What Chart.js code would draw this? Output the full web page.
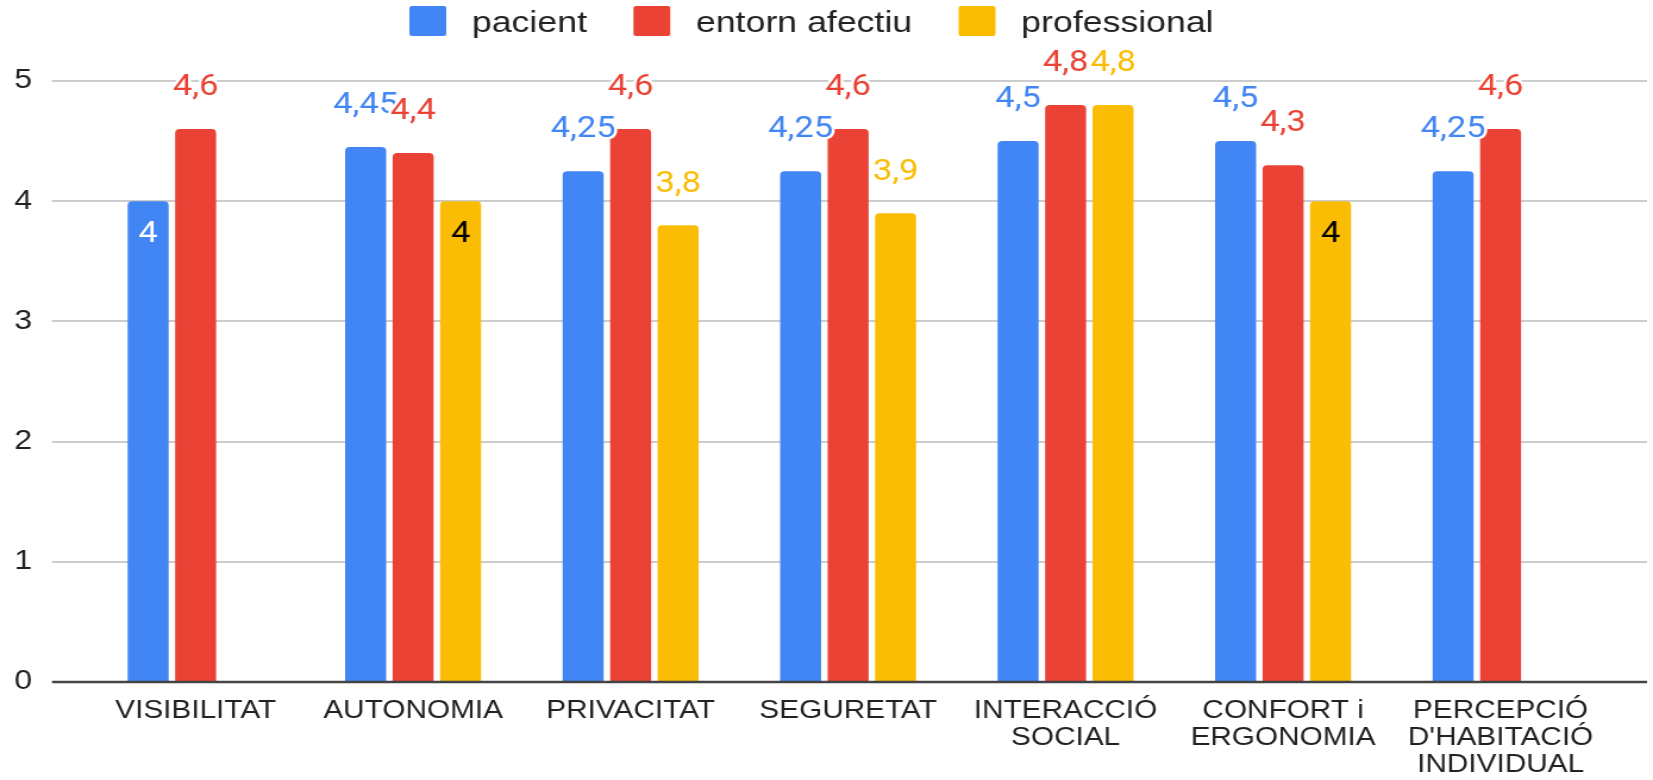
<!DOCTYPE html>
<html lang="ca">
<head>
<meta charset="utf-8">
<title>Valoració per categories</title>
<script src="https://cdn.jsdelivr.net/npm/chart.js@4.4.1/dist/chart.umd.min.js"></script>
<style>
  html, body { margin: 0; padding: 0; background: #fff; overflow: hidden; }
  /* the original picture is a chart stretched sideways, so we draw it narrower and stretch it */
  #wrap { width: 1389px; height: 780px; transform: scaleX(1.19006); transform-origin: 0 0; }
</style>
</head>
<body>
<div id="wrap"><canvas id="grafic"></canvas></div>
<script>
// ==============================================================
// 1. DADES
// ==============================================================
const categories = [
  'VISIBILITAT',
  'AUTONOMIA',
  'PRIVACITAT',
  'SEGURETAT',
  ['INTERACCIÓ', 'SOCIAL'],
  ['CONFORT i', 'ERGONOMIA'],
  ['PERCEPCIÓ', "D'HABITACIÓ", 'INDIVIDUAL']
];
const seriesNames = ['pacient', 'entorn afectiu', 'professional'];
const pacient = [4, 4.45, 4.25, 4.25, 4.5, 4.5, 4.25];
const entornAfectiu = [4.6, 4.4, 4.6, 4.6, 4.8, 4.3, 4.6];
const professional = [null, 4, 3.8, 3.9, 4.8, 4, null];
const yTicks = [0, 1, 2, 3, 4, 5];

// ==============================================================
// 2. ESTIL
// ==============================================================
const COLORS = ['#4285F4', '#EA4335', '#FBBC04'];
const INSIDE_TEXT = ['#ffffff', '#ffffff', '#000000'];
// etiquetes que Google posa dins la barra: [sèrie, categoria]
const labelsInside = [[0, 0], [2, 1], [2, 5]];

const TEXT = '#222222';
const GRID_LEFT = 43.7;
const GRID_RIGHT = 1384;

Chart.defaults.font.family = "'Liberation Sans', Arial, sans-serif";
Chart.defaults.color = TEXT;

// llegenda dibuixada a mà per poder posar-la on és a l'original
const legendPlugin = {
  id: 'llegenda',
  afterDraw(chart) {
    const ctx = chart.ctx;
    const boxW = 31, boxH = 30, gapText = 21.5, gapItem = 39;
    let x = 344;
    const top = 6;
    ctx.save();
    ctx.font = "30px 'Liberation Sans', Arial, sans-serif";
    ctx.textBaseline = 'alphabetic';
    chart.data.datasets.forEach(ds => {
      ctx.fillStyle = ds.backgroundColor;
      ctx.beginPath();
      ctx.roundRect(x, top, boxW, boxH, 2);
      ctx.fill();
      x += boxW + gapText;
      ctx.fillStyle = TEXT;
      ctx.fillText(ds.label, x, top + boxH / 2 + 10.5);
      x += ctx.measureText(ds.label).width + gapItem;
    });
    ctx.restore();
  }
};

// línies de la graella, eix i etiquetes de valor
const gridPlugin = {
  id: 'graella',
  beforeDatasetsDraw(chart) {
    const ctx = chart.ctx;
    const y = chart.scales.y;
    ctx.save();
    ctx.strokeStyle = '#cccccc';
    ctx.lineWidth = 2;
    y.ticks.forEach(t => {
      if (t.value === 0) return;
      const py = Math.round(y.getPixelForValue(t.value));
      ctx.beginPath();
      ctx.moveTo(GRID_LEFT, py);
      ctx.lineTo(GRID_RIGHT, py);
      ctx.stroke();
    });
    ctx.restore();
  },
  afterDatasetsDraw(chart) {
    const ctx = chart.ctx;
    const y = chart.scales.y;
    ctx.save();
    const py = Math.round(y.getPixelForValue(0));
    ctx.strokeStyle = '#444444';
    ctx.lineWidth = 2.5;
    ctx.beginPath();
    ctx.moveTo(GRID_LEFT, py);
    ctx.lineTo(GRID_RIGHT, py);
    ctx.stroke();

    const fs = 29;
    ctx.font = fs + 'px Roboto, sans-serif';
    ctx.textAlign = 'center';
    ctx.textBaseline = 'alphabetic';
    ctx.lineJoin = 'round';
    chart.data.datasets.forEach((ds, di) => {
      const meta = chart.getDatasetMeta(di);
      meta.data.forEach((bar, i) => {
        const v = ds.data[i];
        if (v === null || v === undefined) return;
        const txt = String(v).replace('.', ',');
        const inside = labelsInside.some(p => p[0] === di && p[1] === i);
        if (inside) {
          ctx.fillStyle = INSIDE_TEXT[di];
          ctx.fillText(txt, bar.x, bar.y + 31 + fs * 0.355);
        } else {
          const by = bar.y - 44 + fs * 0.355;
          ctx.strokeStyle = '#ffffff';
          ctx.lineWidth = 5;
          ctx.strokeText(txt, bar.x, by);
          ctx.fillStyle = COLORS[di];
          ctx.fillText(txt, bar.x, by);
        }
      });
    });
    ctx.restore();
  }
};

// ==============================================================
// 3. GRÀFIC
// ==============================================================
const allSeries = [pacient, entornAfectiu, professional];

new Chart(document.getElementById('grafic'), {
  type: 'bar',
  data: {
    labels: categories,
    datasets: allSeries.map((values, k) => ({
      label: seriesNames[k],
      data: values,
      backgroundColor: COLORS[k],
      borderRadius: 4,
      borderSkipped: 'start',
      categoryPercentage: 0.655,
      barPercentage: 0.863
    }))
  },
  options: {
    responsive: true,
    maintainAspectRatio: false,
    animation: false,
    layout: { padding: { top: 81, right: 36.7, left: 0, bottom: 0 } },
    plugins: {
      legend: { display: false },
      tooltip: { enabled: false }
    },
    scales: {
      x: {
        grid: { display: false, drawTicks: false },
        border: { display: false },
        ticks: {
          font: { size: 25, lineHeight: 1.07 },
          color: TEXT,
          padding: 16,
          maxRotation: 0,
          autoSkip: false
        },
        afterFit: s => { s.height = 98; }
      },
      y: {
        min: 0,
        max: 5,
        grid: { display: false, drawTicks: false },
        border: { display: false },
        afterBuildTicks: s => { s.ticks = yTicks.map(v => ({ value: v })); },
        ticks: {
          font: { size: 27 },
          color: TEXT,
          padding: 46
        },
        afterFit: s => { s.width = 73; }
      }
    }
  },
  plugins: [gridPlugin, legendPlugin]
});
</script>
</body>
</html>
